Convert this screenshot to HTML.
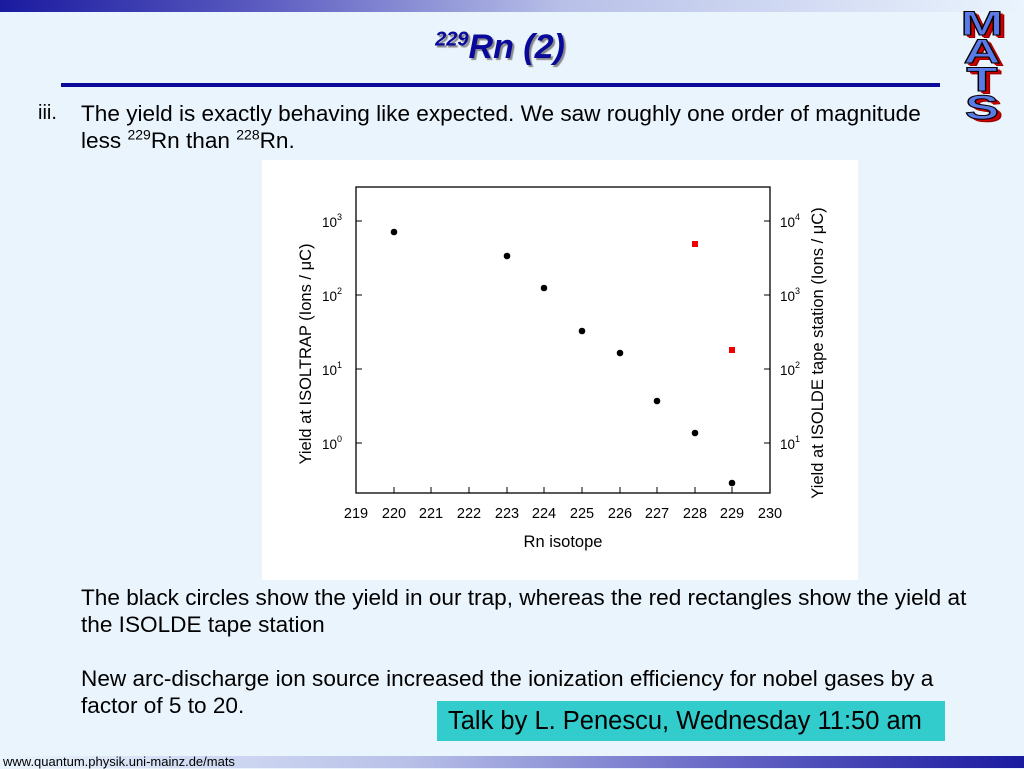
<!DOCTYPE html>
<html><head><meta charset="utf-8"><style>
body{margin:0;width:1024px;height:768px;background:#eaf4fd;position:relative;overflow:hidden;font-family:"Liberation Sans",sans-serif;}
.top{position:absolute;left:0;top:0;width:1024px;height:12px;background:linear-gradient(90deg,#1a1aa0 0%,#5a5ac0 25%,#b8c0e8 55%,#eaf4fd 100%);}
.bot{position:absolute;left:0;top:756px;width:1024px;height:12px;background:linear-gradient(90deg,#eaf4fd 0%,#b8c0e8 40%,#5a5ac0 75%,#1a1aa0 100%);}
.t{position:absolute;color:#000;font-size:22.6px;white-space:nowrap;}
sup{font-size:14px;line-height:0;}
</style></head><body>
<div class="top"></div>
<div class="bot"></div>
<div style="position:absolute;left:0;width:1000px;top:28px;text-align:center;font-size:34px;font-weight:bold;font-style:italic;color:#0a0a9a;text-shadow:2px 2px 1px #888;"><sup style="font-size:20px">229</sup>Rn (2)</div>
<div style="position:absolute;left:61px;top:83px;width:879px;height:4px;background:#0a0a9a;"></div>
<div style="position:absolute;left:950px;top:10px;width:64px;font-size:34px;font-weight:900;color:#5a7ae8;text-align:center;line-height:28px;text-shadow:2px 2px 0 #c00,3px 3px 0 #900;-webkit-text-stroke:1px #000;transform:scaleX(1.5);">M<br>A<br>T<br>S</div>
<div class="t" style="left:38px;top:102px;font-size:20px;">iii.</div>
<div class="t" style="left:81px;top:100px;line-height:27px;">The yield is exactly behaving like expected. We saw roughly one order of magnitude<br>less <sup>229</sup>Rn than <sup>228</sup>Rn.</div>
<div style="position:absolute;left:262px;top:160px;width:596px;height:420px;background:#fff;"></div>
<svg style="position:absolute;left:0;top:0" width="1024" height="768" font-family="Liberation Sans" font-size="14.5">
<rect x="356" y="187" width="414" height="306" fill="none" stroke="#000" stroke-width="1.3"/>
<g stroke="#000" stroke-width="1">
<line x1="356" y1="221" x2="362" y2="221"/><line x1="356" y1="295" x2="362" y2="295"/><line x1="356" y1="369" x2="362" y2="369"/><line x1="356" y1="443" x2="362" y2="443"/>
<line x1="770" y1="221" x2="764" y2="221"/><line x1="770" y1="295" x2="764" y2="295"/><line x1="770" y1="369" x2="764" y2="369"/><line x1="770" y1="443" x2="764" y2="443"/>
<line x1="394" y1="493" x2="394" y2="487"/><line x1="431" y1="493" x2="431" y2="487"/><line x1="469" y1="493" x2="469" y2="487"/><line x1="507" y1="493" x2="507" y2="487"/><line x1="544" y1="493" x2="544" y2="487"/><line x1="582" y1="493" x2="582" y2="487"/><line x1="620" y1="493" x2="620" y2="487"/><line x1="657" y1="493" x2="657" y2="487"/><line x1="695" y1="493" x2="695" y2="487"/><line x1="732" y1="493" x2="732" y2="487"/>
</g>
<g text-anchor="middle">
<text x="356" y="518">219</text><text x="394" y="518">220</text><text x="431" y="518">221</text><text x="469" y="518">222</text><text x="507" y="518">223</text><text x="544" y="518">224</text><text x="582" y="518">225</text><text x="620" y="518">226</text><text x="657" y="518">227</text><text x="695" y="518">228</text><text x="732" y="518">229</text><text x="770" y="518">230</text>
<text x="563" y="547" font-size="16.5">Rn isotope</text>
</g>
<g font-size="13.5">
<text x="322" y="227">10<tspan dy="-7" font-size="9">3</tspan></text>
<text x="322" y="301">10<tspan dy="-7" font-size="9">2</tspan></text>
<text x="322" y="375">10<tspan dy="-7" font-size="9">1</tspan></text>
<text x="322" y="449">10<tspan dy="-7" font-size="9">0</tspan></text>
<text x="780" y="227">10<tspan dy="-7" font-size="9">4</tspan></text>
<text x="780" y="301">10<tspan dy="-7" font-size="9">3</tspan></text>
<text x="780" y="375">10<tspan dy="-7" font-size="9">2</tspan></text>
<text x="780" y="449">10<tspan dy="-7" font-size="9">1</tspan></text>
</g>
<text transform="translate(311,354) rotate(-90)" text-anchor="middle" font-size="16.5">Yield at ISOLTRAP (Ions / μC)</text>
<text transform="translate(823,353) rotate(-90)" text-anchor="middle" font-size="16.5">Yield at ISOLDE tape station (Ions / μC)</text>
<g fill="#000">
<circle cx="394" cy="232" r="3.3"/><circle cx="507" cy="256" r="3.3"/><circle cx="544" cy="288" r="3.3"/><circle cx="582" cy="331" r="3.3"/><circle cx="620" cy="353" r="3.3"/><circle cx="657" cy="401" r="3.3"/><circle cx="695" cy="433" r="3.3"/><circle cx="732" cy="483" r="3.3"/>
</g>
<rect x="692" y="241" width="6" height="6" fill="#e00"/><rect x="729" y="347" width="6" height="6" fill="#e00"/>
</svg>
<div class="t" style="left:81px;top:584px;line-height:27px;">The black circles show the yield in our trap, whereas the red rectangles show the yield at<br>the ISOLDE tape station</div>
<div class="t" style="left:81px;top:665px;line-height:27px;">New arc-discharge ion source increased the ionization efficiency for nobel gases by a<br>factor of 5 to 20.</div>
<div style="position:absolute;left:437px;top:701px;width:508px;height:40px;background:#33cccc;font-size:25.5px;line-height:40px;padding-left:11px;box-sizing:border-box;white-space:nowrap;">Talk by L. Penescu, Wednesday 11:50 am</div>
<div style="position:absolute;left:3px;top:754px;font-size:13px;">www.quantum.physik.uni-mainz.de/mats</div>
</body></html>
